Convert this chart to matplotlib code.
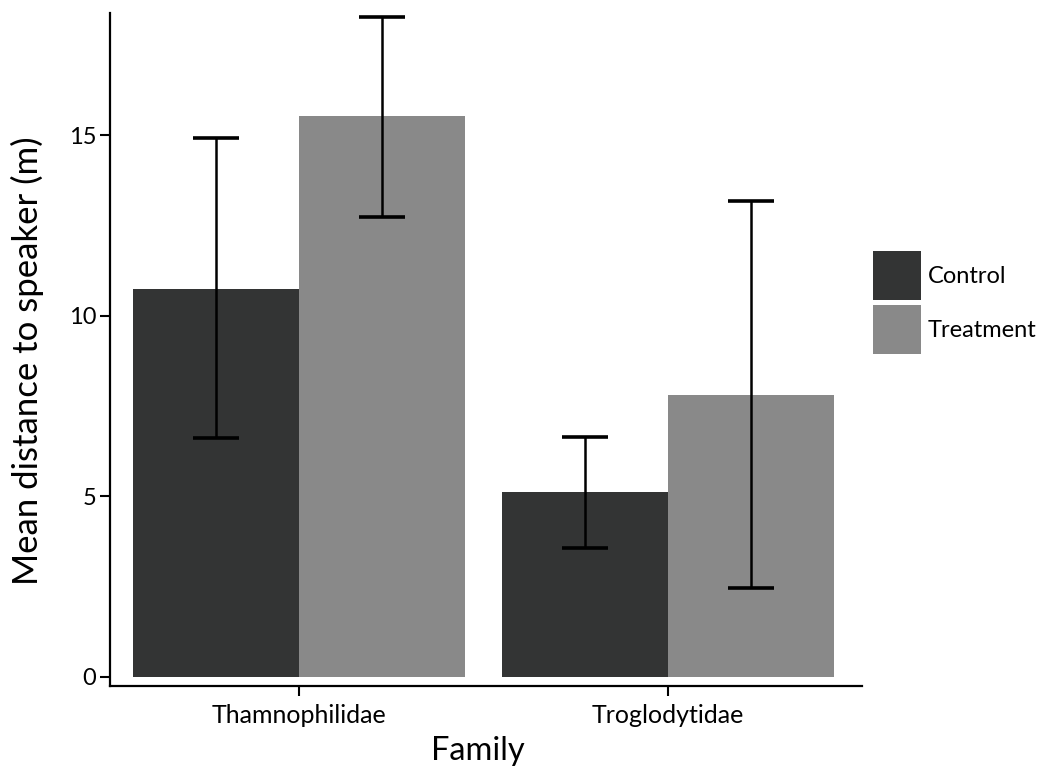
import numpy as np
import matplotlib.pyplot as plt

families = ['Thamnophilidae', 'Troglodytidae']
groups = ['Control', 'Treatment']
control_mean = [10.73, 5.11]
control_lo = [6.63, 3.56]
control_hi = [14.91, 6.64]
treatment_mean = [15.52, 7.82]
treatment_lo = [12.73, 2.46]
treatment_hi = [18.27, 13.17]

plt.rcParams['font.family'] = ['Lato', 'DejaVu Sans']

fig = plt.figure(figsize=(10.43, 7.72), dpi=100)
ax = fig.add_axes([0.1055, 0.1114, 0.7210, 0.8716])

x = np.arange(len(families))
w = 0.45
cols = ['#333434', '#898989']
means = [control_mean, treatment_mean]
los = [control_lo, treatment_lo]
his = [control_hi, treatment_hi]

for i, g in enumerate(groups):
    pos = x + (i - 0.5) * w
    m = np.array(means[i])
    yerr = [m - np.array(los[i]), np.array(his[i]) - m]
    ax.bar(pos, m, width=w, color=cols[i], label=g, zorder=2)
    ax.errorbar(pos, m, yerr=yerr, fmt='none', ecolor='black',
                elinewidth=1.8, capsize=16.5, capthick=2.6, zorder=3)

ax.set_xlim(-0.512, 1.526)
ax.set_ylim(-0.25, 18.38)
ax.set_yticks([0, 5, 10, 15])
ax.set_xticks(x)
ax.set_xticklabels(families)
ax.tick_params(axis='both', length=7, width=1.5, labelsize=17, color='black')
ax.tick_params(axis='x', labelsize=18, pad=6)
ax.tick_params(axis='y', pad=3)
for s in ['top', 'right']:
    ax.spines[s].set_visible(False)
for s in ['left', 'bottom']:
    ax.spines[s].set_linewidth(1.6)

ax.set_xlabel('Family', fontsize=23.5)
ax.set_ylabel('Mean distance to speaker (m)', fontsize=25)
ax.xaxis.set_label_coords(0.489, -0.075)
ax.yaxis.set_label_coords(-0.088, 0.484)

ax.legend(loc='upper left', bbox_to_anchor=(1.0146, 0.646), frameon=False,
          fontsize=17, handlelength=2.03, handleheight=2.82, labelspacing=0.2,
          handletextpad=0.3, borderaxespad=0, borderpad=0)

fig.savefig('out.png', dpi=100)
